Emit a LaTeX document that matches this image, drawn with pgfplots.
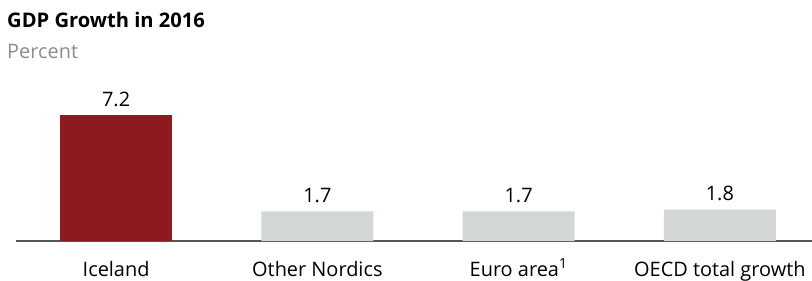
\documentclass[border=0pt]{standalone}
\usepackage{pgfplots}
\pgfplotsset{compat=1.18}
\usepackage{fontspec}
\setmainfont{Open Sans}
\definecolor{icered}{HTML}{8E1A1F}
\definecolor{bargray}{HTML}{D4D7D7}
\definecolor{axisgray}{HTML}{555555}
\definecolor{subgray}{HTML}{8C8C8C}
\begin{document}
\begin{tikzpicture}[x=1bp,y=1bp]
\useasboundingbox (0,0) rectangle (812,280);
\node[anchor=base west, inner sep=0pt, font=\fontsize{20.2}{24}\selectfont\bfseries] at (7,253) {GDP Growth in 2016};
\node[anchor=base west, inner sep=0pt, font=\fontsize{20}{24}\selectfont, text=subgray] at (7,222) {Percent};
\begin{axis}[
  at={(16bp,39bp)}, anchor=south west,
  scale only axis, width=796bp, height=161bp,
  xmin=-0.4975, xmax=3.458, ymin=0, ymax=9.2,
  ybar, bar width=112bp, bar shift=0pt,
  axis x line=bottom, axis y line=none,
  axis line style={axisgray, line width=1.2pt, -},
  xtick={0,1,2,3}, xtick style={draw=none},
  xticklabels={Iceland, Other Nordics, Euro area\textsuperscript{1}, OECD total growth},
  xticklabel style={anchor=base, yshift=-33bp, inner sep=0pt, font=\fontsize{20}{24}\selectfont},
  /pgf/number format/assume math mode=true,
  nodes near coords,
  nodes near coords style={anchor=base, yshift=9bp, inner sep=0pt, font=\fontsize{20}{24}\selectfont,
    /pgf/number format/.cd, fixed, precision=1, fixed zerofill, assume math mode=true},
  clip=false,
]
\addplot[fill=icered, draw=none] coordinates {(0,7.2)};
\addplot[fill=bargray, draw=none] coordinates {(1,1.7) (2,1.7) (3,1.8)};
\end{axis}
\end{tikzpicture}
\end{document}
